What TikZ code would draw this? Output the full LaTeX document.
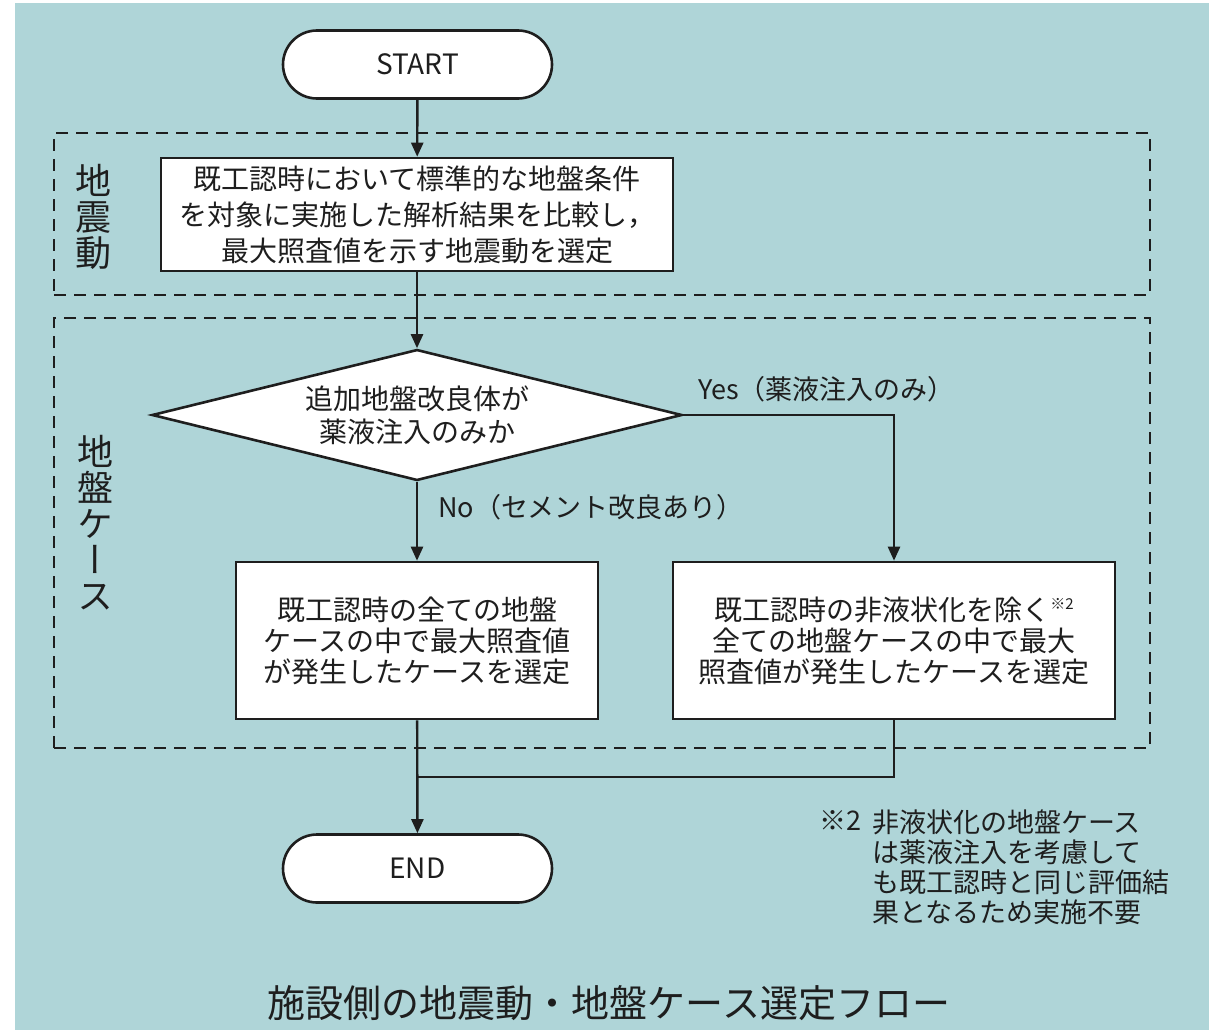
\documentclass[tikz,border=0pt]{standalone}
\usepackage{fontspec}
\setmainfont{Noto Sans CJK JP}
\newfontfamily\vertfont{Noto Sans CJK JP}[RawFeature={+vert}]
\usetikzlibrary{shapes.geometric,arrows.meta}
\definecolor{bg}{HTML}{AFD5D8}
\definecolor{ink}{HTML}{1E1E1E}
\tikzset{
  procbox/.style={draw=ink, line width=2.6pt, fill=white, inner sep=0pt, align=center, text=ink},
  termbox/.style={procbox, rounded corners=34pt, minimum width=269pt, minimum height=68pt, font=\fontsize{28}{30}\selectfont},
  decbox/.style={procbox, shape=diamond, aspect=4.05, minimum width=530pt, minimum height=131pt, font=\fontsize{28}{33}\selectfont},
  groupbox/.style={draw=ink, line width=2.6pt, dash pattern=on 12pt off 8pt, inner sep=0pt},
  sidelabel/.style={text=ink, align=center, inner sep=0pt, font=\vertfont\fontsize{36}{36}\selectfont},
  flowlabel/.style={text=ink, inner sep=0pt, font=\fontsize{27}{30}\selectfont},
  arr/.style={draw=ink, line width=2.4pt, -{Triangle[length=14pt,width=12pt]}},
  plainline/.style={draw=ink, line width=2.4pt},
}
\begin{document}
\begin{tikzpicture}[x=1pt,y=-1pt]
\useasboundingbox (0,0) rectangle (1209,1030);
\fill[white] (0,0) rectangle (1209,1030);
\fill[bg] (15,3) rectangle (1209,1030);

% group frames
\node[groupbox, minimum width=1096pt, minimum height=162pt] (g1) at (602,214) {};
\node[groupbox, minimum width=1096pt, minimum height=430pt] (g2) at (602,533) {};
\node[sidelabel] (l1) at (93,217) {地\\震\\動};
\node[sidelabel] (l2) at (95,523) {地\\盤\\ケ\\ー\\ス};

% nodes
\node[termbox] (start) at (417.5,64.5) {START};
\node[procbox, minimum width=512pt, minimum height=113pt, font=\fontsize{28}{36}\selectfont] (b1) at (417,214.5)
  {既工認時において標準的な地盤条件\\を対象に実施した解析結果を比較し，\\最大照査値を示す地震動を選定};
\node[decbox] (dec) at (417,415) {追加地盤改良体が\\薬液注入のみか};
\node[procbox, minimum width=362pt, minimum height=157pt, font=\fontsize{28}{31}\selectfont] (bl) at (417,640.5)
  {既工認時の全ての地盤\\ケースの中で最大照査値\\が発生したケースを選定};
\node[procbox, minimum width=442pt, minimum height=157pt, font=\fontsize{28}{31}\selectfont] (br) at (894,640.5)
  {既工認時の非液状化を除く{\fontsize{15}{15}\selectfont\raisebox{11pt}{※2}}\\全ての地盤ケースの中で最大\\照査値が発生したケースを選定};
\node[termbox] (end) at (417.5,868.5) {END};

% labels
\node[flowlabel, anchor=west] (yes) at (698,389) {Yes（薬液注入のみ）};
\node[flowlabel, anchor=west] (no) at (438,507) {No（セメント改良あり）};

% footnote
\node[flowlabel, anchor=north west, align=left] (fntext) at (872,810)
  {非液状化の地盤ケース\\は薬液注入を考慮して\\も既工認時と同じ評価結\\果となるため実施不要};
\node[flowlabel, anchor=north east] (fnmark) at ([xshift=-10pt]fntext.north west) {※2};

% title
\node[text=ink, inner sep=0pt, font=\fontsize{38}{40}\selectfont] (title) at (609,1003) {施設側の地震動・地盤ケース選定フロー};

% connectors
\coordinate (merge) at (417,777);
\draw[arr] (start) -- (b1);
\draw[arr] (b1) -- (dec);
\draw[arr] (dec) -- (bl);
\draw[arr] (dec.east) -| (br.north);
\draw[arr] (bl) -- (end);
\draw[plainline] (br.south) |- (merge);
\end{tikzpicture}
\end{document}
